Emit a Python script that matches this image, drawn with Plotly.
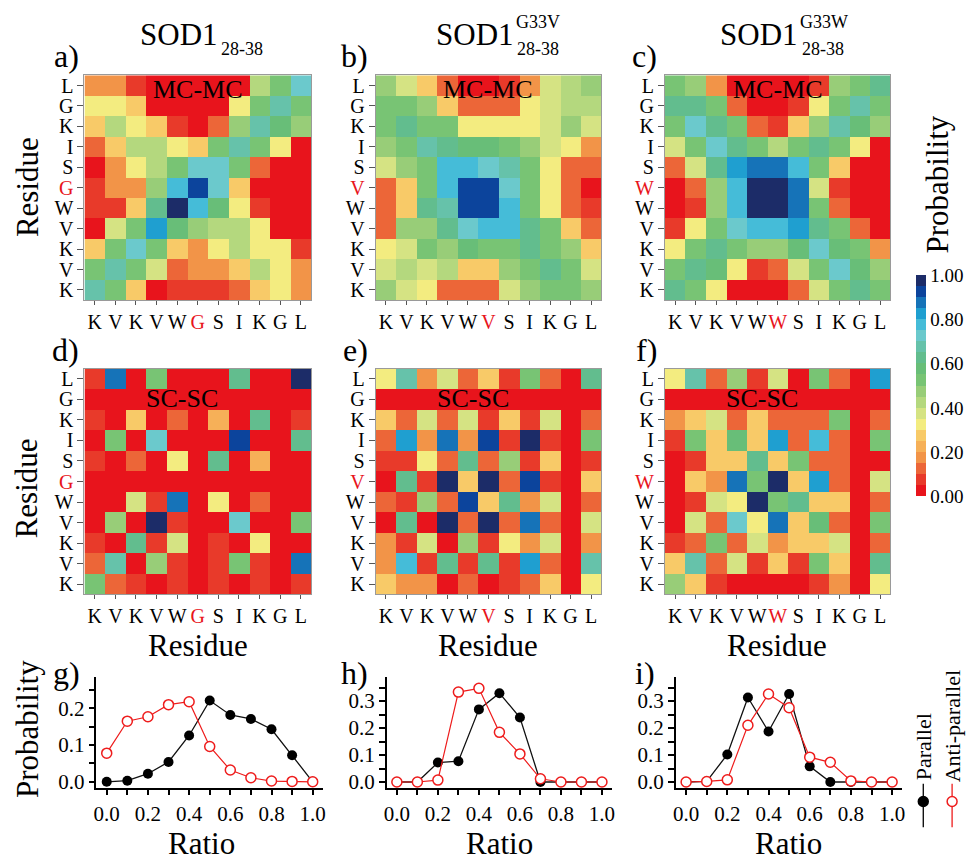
import plotly.graph_objects as go

# ---------------- data ----------------
residues = [28, 29, 30, 31, 32, 33, 34, 35, 36, 37, 38]
rows_top_to_bottom = residues[::-1]
wt_letters = ["K", "V", "K", "V", "W", "G", "S", "I", "K", "G", "L"]
g33v_letters = ["K", "V", "K", "V", "W", "V", "S", "I", "K", "G", "L"]
g33w_letters = ["K", "V", "K", "V", "W", "W", "S", "I", "K", "G", "L"]
mutation_index = 5  # residue 33

# contact probability maps, rows listed from residue 38 (top) to residue 28 (bottom)
mc_wt = [
    [0.17, 0.17, 0.07, 0.02, 0.02, 0.02, 0.02, 0.02, 0.42, 0.52, 0.71],
    [0.32, 0.32, 0.29, 0.02, 0.02, 0.02, 0.02, 0.32, 0.52, 0.66, 0.52],
    [0.29, 0.42, 0.32, 0.29, 0.07, 0.04, 0.13, 0.48, 0.68, 0.56, 0.47],
    [0.12, 0.26, 0.42, 0.42, 0.32, 0.27, 0.52, 0.68, 0.51, 0.32, 0.03],
    [0.04, 0.18, 0.32, 0.44, 0.52, 0.71, 0.71, 0.52, 0.13, 0.03, 0.03],
    [0.07, 0.18, 0.18, 0.48, 0.76, 0.92, 0.71, 0.26, 0.03, 0.03, 0.03],
    [0.07, 0.09, 0.29, 0.61, 0.97, 0.76, 0.56, 0.32, 0.07, 0.03, 0.03],
    [0.03, 0.36, 0.52, 0.83, 0.58, 0.48, 0.43, 0.42, 0.32, 0.03, 0.03],
    [0.29, 0.52, 0.72, 0.52, 0.28, 0.18, 0.32, 0.42, 0.31, 0.31, 0.07],
    [0.52, 0.68, 0.51, 0.36, 0.12, 0.18, 0.18, 0.26, 0.42, 0.31, 0.18],
    [0.68, 0.52, 0.29, 0.03, 0.07, 0.07, 0.07, 0.12, 0.28, 0.31, 0.18],
]
mc_g33v = [
    [0.46, 0.38, 0.26, 0.11, 0.02, 0.02, 0.08, 0.17, 0.37, 0.43, 0.48],
    [0.52, 0.52, 0.48, 0.26, 0.11, 0.11, 0.11, 0.32, 0.37, 0.44, 0.44],
    [0.52, 0.62, 0.52, 0.52, 0.32, 0.32, 0.32, 0.32, 0.38, 0.48, 0.38],
    [0.46, 0.52, 0.66, 0.61, 0.56, 0.56, 0.53, 0.48, 0.38, 0.32, 0.17],
    [0.38, 0.48, 0.52, 0.77, 0.77, 0.72, 0.66, 0.52, 0.32, 0.11, 0.11],
    [0.11, 0.26, 0.52, 0.77, 0.92, 0.92, 0.72, 0.52, 0.32, 0.11, 0.03],
    [0.11, 0.26, 0.62, 0.66, 0.92, 0.92, 0.77, 0.52, 0.32, 0.11, 0.07],
    [0.11, 0.46, 0.46, 0.61, 0.72, 0.77, 0.77, 0.61, 0.52, 0.26, 0.11],
    [0.32, 0.38, 0.51, 0.46, 0.57, 0.52, 0.52, 0.64, 0.52, 0.48, 0.26],
    [0.38, 0.44, 0.38, 0.43, 0.26, 0.26, 0.48, 0.52, 0.64, 0.52, 0.38],
    [0.46, 0.38, 0.32, 0.11, 0.11, 0.11, 0.38, 0.46, 0.52, 0.52, 0.46],
]
mc_g33w = [
    [0.51, 0.46, 0.17, 0.02, 0.02, 0.02, 0.02, 0.06, 0.46, 0.52, 0.64],
    [0.61, 0.61, 0.52, 0.11, 0.02, 0.02, 0.08, 0.32, 0.52, 0.66, 0.52],
    [0.52, 0.72, 0.61, 0.51, 0.11, 0.06, 0.26, 0.48, 0.66, 0.56, 0.46],
    [0.38, 0.52, 0.72, 0.64, 0.52, 0.42, 0.52, 0.64, 0.51, 0.32, 0.04],
    [0.11, 0.38, 0.61, 0.82, 0.87, 0.87, 0.78, 0.52, 0.26, 0.04, 0.02],
    [0.03, 0.11, 0.46, 0.76, 0.98, 0.98, 0.87, 0.38, 0.07, 0.02, 0.02],
    [0.03, 0.07, 0.48, 0.76, 0.98, 0.98, 0.87, 0.52, 0.11, 0.02, 0.02],
    [0.06, 0.32, 0.52, 0.72, 0.77, 0.77, 0.82, 0.64, 0.52, 0.11, 0.03],
    [0.32, 0.52, 0.61, 0.52, 0.46, 0.46, 0.58, 0.71, 0.56, 0.51, 0.17],
    [0.52, 0.62, 0.56, 0.32, 0.08, 0.12, 0.38, 0.52, 0.71, 0.56, 0.46],
    [0.62, 0.52, 0.32, 0.03, 0.02, 0.02, 0.11, 0.38, 0.52, 0.61, 0.52],
]
sc_wt = [
    [0.08, 0.86, 0.04, 0.52, 0.04, 0.03, 0.03, 0.62, 0.04, 0.02, 0.97],
    [0.02, 0.02, 0.02, 0.02, 0.02, 0.02, 0.02, 0.02, 0.02, 0.02, 0.02],
    [0.08, 0.04, 0.29, 0.02, 0.13, 0.02, 0.23, 0.03, 0.62, 0.02, 0.06],
    [0.02, 0.52, 0.02, 0.72, 0.04, 0.02, 0.02, 0.92, 0.02, 0.02, 0.62],
    [0.06, 0.04, 0.12, 0.02, 0.32, 0.02, 0.64, 0.02, 0.23, 0.02, 0.02],
    [0.02, 0.02, 0.02, 0.02, 0.02, 0.02, 0.02, 0.02, 0.02, 0.02, 0.02],
    [0.04, 0.04, 0.36, 0.06, 0.87, 0.02, 0.32, 0.04, 0.13, 0.02, 0.04],
    [0.02, 0.46, 0.03, 0.97, 0.06, 0.02, 0.02, 0.72, 0.02, 0.02, 0.52],
    [0.07, 0.02, 0.64, 0.06, 0.36, 0.02, 0.08, 0.02, 0.32, 0.02, 0.04],
    [0.12, 0.66, 0.02, 0.46, 0.06, 0.02, 0.06, 0.52, 0.06, 0.02, 0.86],
    [0.51, 0.12, 0.08, 0.02, 0.06, 0.02, 0.06, 0.02, 0.07, 0.02, 0.08],
]
sc_g33v = [
    [0.32, 0.68, 0.17, 0.38, 0.11, 0.27, 0.06, 0.52, 0.12, 0.02, 0.63],
    [0.02, 0.02, 0.02, 0.02, 0.02, 0.02, 0.02, 0.02, 0.02, 0.02, 0.02],
    [0.26, 0.12, 0.38, 0.12, 0.38, 0.08, 0.27, 0.08, 0.38, 0.02, 0.12],
    [0.12, 0.83, 0.17, 0.87, 0.17, 0.92, 0.07, 0.97, 0.07, 0.02, 0.52],
    [0.07, 0.07, 0.32, 0.11, 0.61, 0.12, 0.46, 0.08, 0.26, 0.02, 0.07],
    [0.03, 0.62, 0.07, 0.97, 0.26, 0.97, 0.12, 0.92, 0.07, 0.02, 0.27],
    [0.12, 0.07, 0.48, 0.12, 0.92, 0.27, 0.62, 0.17, 0.38, 0.02, 0.12],
    [0.03, 0.62, 0.03, 0.97, 0.12, 0.97, 0.12, 0.87, 0.12, 0.02, 0.38],
    [0.17, 0.07, 0.38, 0.03, 0.46, 0.07, 0.32, 0.17, 0.38, 0.02, 0.17],
    [0.17, 0.78, 0.07, 0.61, 0.07, 0.64, 0.07, 0.83, 0.12, 0.02, 0.66],
    [0.26, 0.17, 0.17, 0.03, 0.12, 0.03, 0.07, 0.12, 0.26, 0.02, 0.32],
]
sc_g33w = [
    [0.32, 0.66, 0.12, 0.46, 0.07, 0.38, 0.03, 0.52, 0.12, 0.02, 0.83],
    [0.02, 0.02, 0.02, 0.02, 0.02, 0.02, 0.02, 0.02, 0.02, 0.02, 0.02],
    [0.18, 0.26, 0.38, 0.12, 0.26, 0.12, 0.12, 0.12, 0.52, 0.02, 0.12],
    [0.07, 0.52, 0.26, 0.58, 0.26, 0.83, 0.12, 0.78, 0.12, 0.02, 0.52],
    [0.03, 0.07, 0.26, 0.26, 0.61, 0.26, 0.52, 0.12, 0.12, 0.02, 0.03],
    [0.03, 0.26, 0.17, 0.86, 0.52, 0.97, 0.26, 0.83, 0.12, 0.02, 0.38],
    [0.03, 0.07, 0.38, 0.32, 0.97, 0.52, 0.61, 0.26, 0.26, 0.02, 0.11],
    [0.03, 0.38, 0.12, 0.71, 0.32, 0.86, 0.26, 0.58, 0.12, 0.02, 0.51],
    [0.07, 0.12, 0.52, 0.12, 0.38, 0.18, 0.26, 0.26, 0.38, 0.02, 0.11],
    [0.26, 0.68, 0.12, 0.38, 0.07, 0.26, 0.07, 0.52, 0.26, 0.02, 0.64],
    [0.46, 0.26, 0.07, 0.03, 0.02, 0.02, 0.02, 0.07, 0.18, 0.02, 0.32],
]

ratio = [0.0, 0.1, 0.2, 0.3, 0.4, 0.5, 0.6, 0.7, 0.8, 0.9, 1.0]
parallel_wt = [0.0, 0.003, 0.022, 0.054, 0.126, 0.221, 0.182, 0.171, 0.143, 0.072, 0.0]
anti_wt = [0.078, 0.165, 0.177, 0.21, 0.218, 0.096, 0.032, 0.011, 0.002, 0.001, 0.0]
parallel_g33v = [0.0, 0.0, 0.072, 0.077, 0.269, 0.329, 0.239, 0.0, 0.0, 0.0, 0.0]
anti_g33v = [0.0, 0.0, 0.007, 0.333, 0.347, 0.184, 0.104, 0.012, 0.0, 0.0, 0.0]
parallel_g33w = [0.0, 0.002, 0.102, 0.313, 0.187, 0.326, 0.058, 0.0, 0.0, 0.0, 0.0]
anti_g33w = [0.0, 0.002, 0.008, 0.21, 0.326, 0.275, 0.092, 0.073, 0.004, 0.0, 0.0]

colorbar_ticks = [0.0, 0.2, 0.4, 0.6, 0.8, 1.0]
band_colors = [
    "#e8141c", "#e83a2a", "#ec6638", "#f29448", "#f6b058", "#f8ca68",
    "#f3ec80", "#d5e383", "#b4d87e", "#98cd78", "#78c474", "#68be78",
    "#62bd8e", "#66c2aa", "#6bc9cc", "#45bcd8", "#1f9fd0", "#1673b8",
    "#0c449c", "#1c2c68",
]

# ---------------- helpers ----------------
W, H = 971, 867
FONT = "Liberation Serif"


def px(x):
    return x / W


def py(y):
    return 1 - y / H


colorscale = []
n = len(band_colors)
for i, c in enumerate(band_colors):
    colorscale.append([i / n, c])
    colorscale.append([(i + 1) / n, c])


def labels_html(letters):
    out = []
    for i, l in enumerate(letters):
        if i == mutation_index:
            out.append('<span style="color:#e8141c">%s</span>' % l)
        else:
            out.append(l)
    return out


fig = go.Figure()

heat_cols = [(82, 310), (375, 602), (666, 893)]
heat_rows = [(75, 302), (371, 599)]
maps = [[mc_wt, mc_g33v, mc_g33w], [sc_wt, sc_g33v, sc_g33w]]
letter_sets = [wt_letters, g33v_letters, g33w_letters]

layout = dict(
    width=W, height=H, margin=dict(l=0, r=0, t=0, b=0),
    paper_bgcolor="white", plot_bgcolor="white", showlegend=False,
    font=dict(family=FONT, color="black"),
    coloraxis=dict(
        colorscale=colorscale, cmin=0, cmax=1,
        colorbar=dict(
            x=px(919), xanchor="left", thickness=10, thicknessmode="pixels",
            len=(500 - 277) / H, lenmode="fraction", y=py(388.5), yanchor="middle",
            outlinewidth=0, xpad=0, ypad=0, ticks="",
            tickvals=colorbar_ticks, tickformat=".2f",
            tickfont=dict(family=FONT, size=19, color="black"),
        ),
    ),
)

k = 0
for r in range(2):
    for c in range(3):
        k += 1
        xa = "x" if k == 1 else "x%d" % k
        ya = "y" if k == 1 else "y%d" % k
        fig.add_trace(go.Heatmap(
            z=maps[r][c], x=residues, y=rows_top_to_bottom,
            coloraxis="coloraxis", xaxis=xa, yaxis=ya, hoverongaps=False,
        ))
        ticktext = labels_html(letter_sets[c])
        common = dict(
            showgrid=False, zeroline=False, showline=True, mirror=True,
            linecolor="#9a9a9a", linewidth=1, ticks="outside", ticklen=4,
            tickcolor="#555", tickwidth=1, tickvals=residues, ticktext=ticktext,
            tickfont=dict(family=FONT, size=20, color="black"), tickangle=0,
            range=[27.5, 38.5], fixedrange=True,
        )
        layout["xaxis" if k == 1 else "xaxis%d" % k] = dict(
            common, domain=[px(heat_cols[c][0]), px(heat_cols[c][1])], anchor=ya)
        layout["yaxis" if k == 1 else "yaxis%d" % k] = dict(
            common, domain=[py(heat_rows[r][1]), py(heat_rows[r][0])], anchor=xa,
            ticklen=6)

# line plots
line_cols = [(94, 322), (386, 613), (677, 905)]
line_rows = (682, 794)
par_sets = [parallel_wt, parallel_g33v, parallel_g33w]
anti_sets = [anti_wt, anti_g33v, anti_g33w]
y_ranges = [[-0.016, 0.286], [-0.021, 0.39], [-0.021, 0.39]]
for c in range(3):
    k = 7 + c
    xa, ya = "x%d" % k, "y%d" % k
    fig.add_trace(go.Scatter(
        x=ratio, y=par_sets[c], mode="lines+markers", name="Parallel",
        line=dict(color="#111", width=1.3),
        marker=dict(symbol="circle", size=10, color="black"),
        xaxis=xa, yaxis=ya, cliponaxis=False,
    ))
    fig.add_trace(go.Scatter(
        x=ratio, y=anti_sets[c], mode="lines+markers", name="Anti-parallel",
        line=dict(color="#ee1c1c", width=1.2),
        marker=dict(symbol="circle", size=10, color="white",
                    line=dict(color="#ee1c1c", width=1.5)),
        xaxis=xa, yaxis=ya, cliponaxis=False,
    ))
    ax_common = dict(
        showgrid=False, zeroline=False, showline=True, mirror=False,
        linecolor="black", linewidth=1.5, ticks="outside", ticklen=6,
        tickwidth=1.5, tickcolor="black", tickformat=".1f",
        tickfont=dict(family=FONT, size=21, color="black"), fixedrange=True,
    )
    layout["xaxis%d" % k] = dict(
        ax_common, domain=[px(line_cols[c][0]), px(line_cols[c][1])], anchor=ya,
        range=[-0.05, 1.05], dtick=0.2, tick0=0, tickangle=0,
        minor=dict(dtick=0.1, tick0=0, ticks="outside", ticklen=6, tickwidth=1.5,
                   tickcolor="black", showgrid=False),
    )
    layout["yaxis%d" % k] = dict(
        ax_common, domain=[py(line_rows[1]), py(line_rows[0])], anchor=xa,
        range=y_ranges[c], dtick=0.1, tick0=0,
        minor=dict(dtick=0.05, tick0=0, ticks="outside", ticklen=6, tickwidth=1.5,
                   tickcolor="black", showgrid=False),
    )

fig.update_layout(**layout)

# ---------------- text ----------------
ann = []


def add_text(text, x, y, size, xanchor="center", yanchor="middle", angle=0, color="black"):
    ann.append(dict(text=text, x=px(x), y=py(y), xref="paper", yref="paper",
                    showarrow=False, xanchor=xanchor, yanchor=yanchor,
                    textangle=angle, font=dict(family=FONT, size=size, color=color)))


# column titles
add_text("SOD1", 177, 34, 31)
add_text("28-38", 217, 48, 18, xanchor="left")
add_text("SOD1", 475, 34, 31)
add_text("G33V", 514, 21, 18, xanchor="left")
add_text("28-38", 515, 48, 18, xanchor="left")
add_text("SOD1", 761, 34, 31)
add_text("G33W", 800, 21, 18, xanchor="left")
add_text("28-38", 802, 48, 18, xanchor="left")

# panel labels
for lab, x, y in [("a)", 78, 56), ("b)", 369, 56), ("c)", 660, 56),
                  ("d)", 78, 352), ("e)", 369, 352), ("f)", 660, 352),
                  ("g)", 79, 678), ("h)", 369, 678), ("i)", 658, 678)]:
    add_text(lab, x, y, 32, xanchor="right")

# region labels in heatmaps
for (x0, x1) in heat_cols:
    add_text("MC-MC", (x0 + x1) / 2, 89, 26)
    add_text("SC-SC", (x0 + x1) / 2 - 16, 401, 26)

# axis titles
add_text("Residue", 24, 188, 31, angle=-90)
add_text("Residue", 24, 492, 31, angle=-90)
add_text("Probability", 24, 735, 31, angle=-90)
for xc in [196, 488, 779]:
    add_text("Residue", xc, 651, 31)
for xc in [200, 500, 790]:
    add_text("Ratio", xc, 850, 31)
add_text("Probability", 940, 185, 31, angle=-90)

# rotated legend
add_text("Parallel", 926, 753, 22, angle=-90)
add_text("Anti-parallel", 955, 732, 22, angle=-90)

fig.update_layout(annotations=ann)

shapes = []
for xc, col, fill in [(926, "black", "black"), (955, "#ee1c1c", "white")]:
    shapes.append(dict(type="line", xref="paper", yref="paper",
                       x0=px(xc), x1=px(xc), y0=py(790), y1=py(834),
                       line=dict(color=col, width=1.3)))
    shapes.append(dict(type="circle", xref="paper", yref="paper",
                       x0=px(xc - 5), x1=px(xc + 5), y0=py(813), y1=py(803),
                       fillcolor=fill, line=dict(color=col, width=1.5)))
fig.update_layout(shapes=shapes)

fig.write_html(
    "out.html",
    config={"displayModeBar": False, "staticPlot": False},
    post_script="document.body.style.margin='0';document.body.style.padding='0';"
                "document.body.style.overflow='hidden';",
)
